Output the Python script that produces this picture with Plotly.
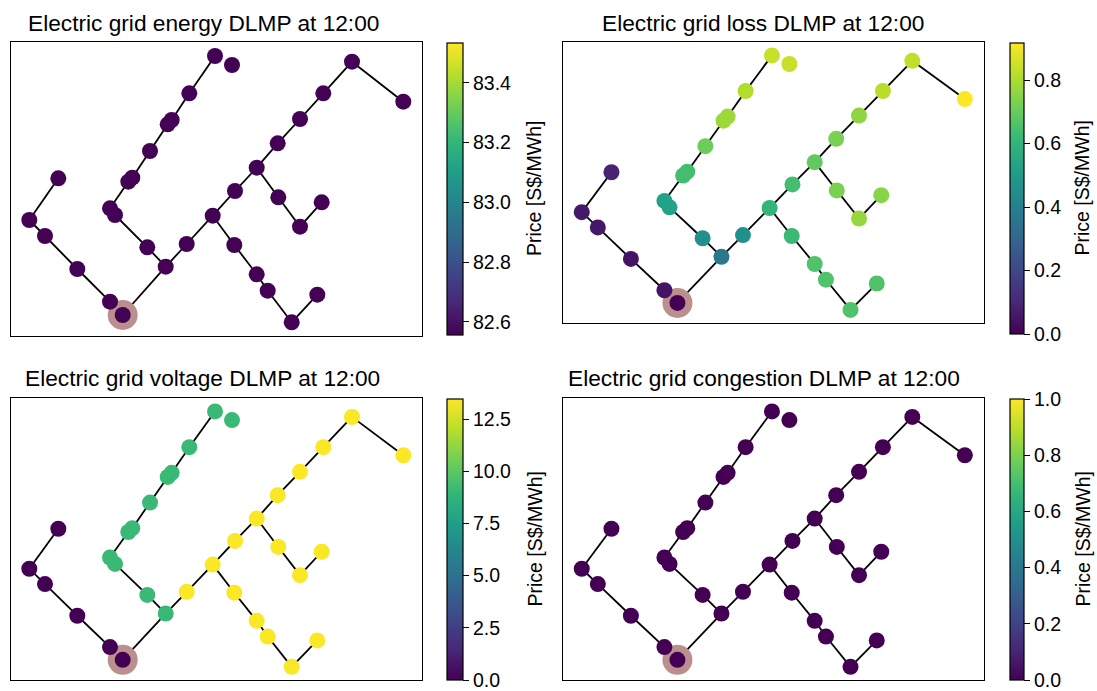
import plotly.graph_objects as go

# Network layout (node positions) and line topology
node_x = [111.7, 99.0, 66.3, 34.0, 18.3, 47.3, 154.7, 136.3, 104.0, 99.0,
          121.3, 117.3, 139.0, 160.7, 156.7, 178.3, 204.0, 221.0, 175.7, 201.7,
          224.0, 245.7, 266.7, 289.0, 312.3, 341.0, 392.3, 267.3, 289.0, 310.7,
          223.3, 245.7, 256.7, 280.7, 306.3]
node_y = [21.0, 34.3, 67.0, 100.0, 116.0, 157.7, 69.3, 88.7, 121.0, 127.7,
          158.3, 154.3, 185.0, 216.0, 211.7, 242.7, 280.0, 271.0, 92.0, 120.3,
          145.0, 168.3, 192.7, 217.0, 242.7, 274.3, 234.3, 138.7, 109.3, 133.7,
          91.0, 61.7, 45.3, 13.7, 41.3]
edge_from = [0, 1, 2, 3, 4, 0, 6, 7, 8, 9, 11, 10, 12, 14, 13, 15, 6, 18, 19, 20,
             21, 22, 23, 24, 25, 21, 27, 28, 19, 30, 31, 32, 33]
edge_to = [1, 2, 3, 4, 5, 6, 7, 8, 9, 11, 10, 12, 14, 13, 15, 16, 18, 19, 20, 21,
           22, 23, 24, 25, 26, 27, 28, 29, 30, 31, 32, 33, 34]
source_node = 0

# DLMP components per node [S$/MWh]
energy_dlmp = [82.56, 82.56, 82.56, 82.56, 82.56, 82.56, 82.56, 82.56, 82.56, 82.56,
               82.56, 82.56, 82.56, 82.56, 82.56, 82.56, 82.56, 82.56, 82.56, 82.56,
               82.56, 82.56, 82.56, 82.56, 82.56, 82.56, 82.56, 82.56, 82.56, 82.56,
               82.56, 82.56, 82.56, 82.56, 82.56]
loss_dlmp = [0.0, 0.045, 0.05, 0.06, 0.06, 0.09, 0.37, 0.46, 0.53, 0.53,
             0.64, 0.64, 0.71, 0.78, 0.78, 0.81, 0.84, 0.84, 0.46, 0.60,
             0.64, 0.69, 0.73, 0.76, 0.82, 0.83, 0.915, 0.73, 0.77, 0.75,
             0.62, 0.66, 0.66, 0.66, 0.66]
voltage_dlmp = [0.0, 0.0, 0.0, 0.0, 0.0, 0.0, 9.1, 9.1, 9.1, 9.1,
                9.1, 9.1, 9.1, 9.1, 9.1, 9.1, 9.1, 9.1, 13.4, 13.4,
                13.4, 13.4, 13.4, 13.4, 13.4, 13.4, 13.4, 13.4, 13.4, 13.4,
                13.4, 13.4, 13.4, 13.4, 13.4]
congestion_dlmp = [0.0, 0.0, 0.0, 0.0, 0.0, 0.0, 0.0, 0.0, 0.0, 0.0,
                   0.0, 0.0, 0.0, 0.0, 0.0, 0.0, 0.0, 0.0, 0.0, 0.0,
                   0.0, 0.0, 0.0, 0.0, 0.0, 0.0, 0.0, 0.0, 0.0, 0.0,
                   0.0, 0.0, 0.0, 0.0, 0.0]

panel_titles = ["Electric grid energy DLMP at 12:00", "Electric grid loss DLMP at 12:00",
                "Electric grid voltage DLMP at 12:00", "Electric grid congestion DLMP at 12:00"]
colorbar_label = "Price [S$/MWh]"
color_limits = [(82.556, 83.533), (0.0, 0.917), (0.0, 13.46), (0.0, 1.0)]
colorbar_ticks = [[82.6, 82.8, 83.0, 83.2, 83.4],
                  [0.0, 0.2, 0.4, 0.6, 0.8],
                  [0.0, 2.5, 5.0, 7.5, 10.0, 12.5],
                  [0.0, 0.2, 0.4, 0.6, 0.8, 1.0]]

W, H = 1097, 691
FONT = "Liberation Sans, Arial, sans-serif"

# pixel boxes: axes (left, right, top, bottom), colorbar (left, right, top, bottom),
# title centre, colorbar label centre x
layouts = [
    dict(ax=(11, 422, 42, 336), cb=(447, 463, 43, 335), tt=(203, 23), lx=534),
    dict(ax=(563, 984, 42, 323), cb=(1010, 1024, 43, 334), tt=(763, 23), lx=1082),
    dict(ax=(11, 422, 398, 680), cb=(447, 463, 399, 680), tt=(202, 378), lx=534),
    dict(ax=(563, 984, 398, 680), cb=(1010, 1024, 399, 680), tt=(764, 378), lx=1082),
]
values = [energy_dlmp, loss_dlmp, voltage_dlmp, congestion_dlmp]

ex, ey = [], []
for a, b in zip(edge_from, edge_to):
    ex += [node_x[a], node_x[b], None]
    ey += [node_y[a], node_y[b], None]

fig = go.Figure()
annotations = []
for i, (title, vals, (cmin, cmax), ticks, lay) in enumerate(
        zip(panel_titles, values, color_limits, colorbar_ticks, layouts)):
    xa = "x" if i == 0 else f"x{i+1}"
    ya = "y" if i == 0 else f"y{i+1}"
    fig.add_trace(go.Scatter(x=ex, y=ey, mode="lines", xaxis=xa, yaxis=ya,
                             line=dict(color="black", width=1.8),
                             hoverinfo="skip", showlegend=False))
    fig.add_trace(go.Scatter(x=[node_x[source_node]], y=[node_y[source_node]], mode="markers",
                             xaxis=xa, yaxis=ya,
                             marker=dict(size=30, color="#bc8f8f", line=dict(width=0)),
                             hoverinfo="skip", showlegend=False))
    cl, cr, ct, cbm = lay["cb"]
    fig.add_trace(go.Scatter(
        x=node_x, y=node_y, mode="markers", xaxis=xa, yaxis=ya, showlegend=False,
        marker=dict(size=16, color=vals, colorscale="Viridis", cmin=cmin, cmax=cmax,
                    line=dict(width=0), showscale=True,
                    colorbar=dict(
                        x=cl / W, xanchor="left", xpad=0,
                        y=1 - ct / H, yanchor="top", ypad=0,
                        lenmode="pixels", len=cbm - ct,
                        thicknessmode="pixels", thickness=cr - cl,
                        outlinewidth=1.2, outlinecolor="black",
                        ticks="outside", ticklen=6, tickwidth=1.2, tickcolor="black",
                        tickvals=ticks, tickformat=".1f",
                        tickfont=dict(family=FONT, size=19.5, color="black"),
                    ))))
    al, ar, at, ab = lay["ax"]
    axis_style = dict(showline=True, mirror=True, linecolor="black", linewidth=1.2,
                      showgrid=False, zeroline=False, showticklabels=False, ticks="",
                      fixedrange=True)
    fig.update_layout(**{
        ("xaxis" if i == 0 else f"xaxis{i+1}"): dict(domain=[al / W, ar / W], range=[0, 411],
                                                      anchor=ya, **axis_style),
        ("yaxis" if i == 0 else f"yaxis{i+1}"): dict(domain=[1 - ab / H, 1 - at / H], range=[0, 294],
                                                      anchor=xa, **axis_style),
    })
    tx, ty = lay["tt"]
    annotations.append(dict(text=title, x=tx / W, y=1 - ty / H, xref="paper", yref="paper",
                            xanchor="center", yanchor="middle", showarrow=False,
                            font=dict(family=FONT, size=22.7, color="black")))
    annotations.append(dict(text=colorbar_label, x=lay["lx"] / W, y=1 - (ct + cbm) / 2 / H,
                            xref="paper", yref="paper", xanchor="center", yanchor="middle",
                            textangle=-90, showarrow=False,
                            font=dict(family=FONT, size=19.5, color="black")))

fig.update_layout(width=W, height=H, margin=dict(l=0, r=0, t=0, b=0),
                  paper_bgcolor="white", plot_bgcolor="white",
                  font=dict(family=FONT, color="black"),
                  annotations=annotations)
fig.write_html("out.html")
